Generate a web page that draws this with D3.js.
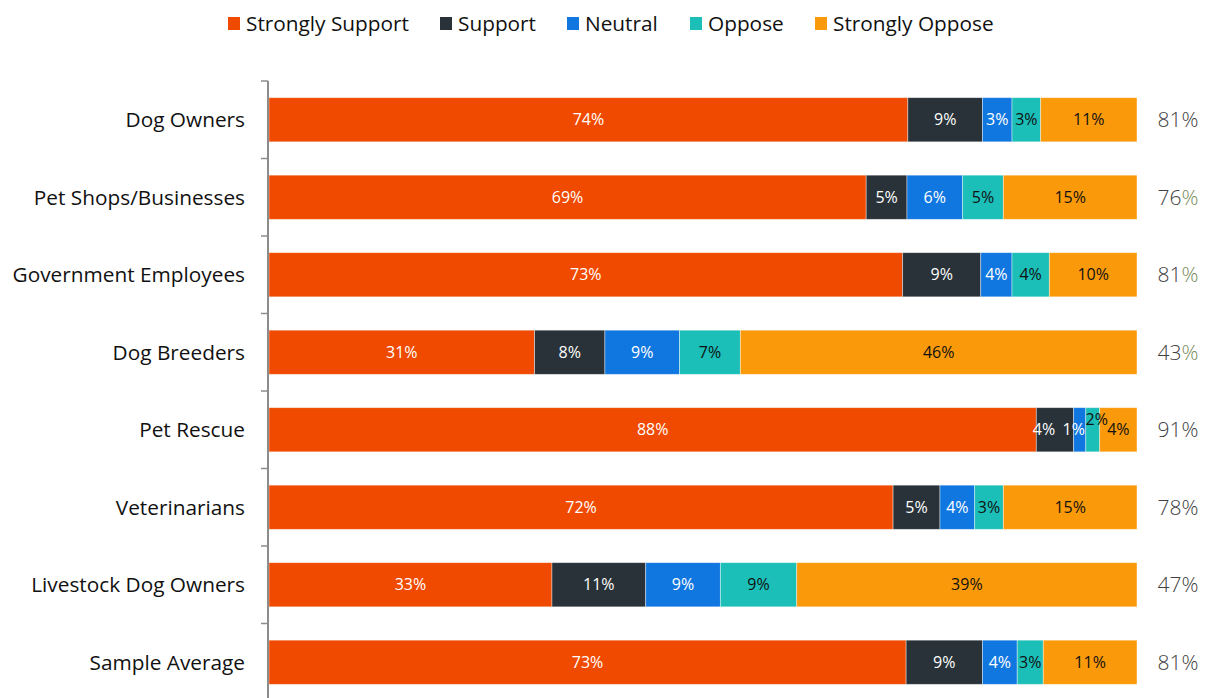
<!DOCTYPE html>
<html>
<head>
<meta charset="utf-8">
<script src="https://cdn.jsdelivr.net/npm/d3@7"></script>
<style>
  html, body { margin: 0; padding: 0; background: #fff; }
  svg { display: block; }
</style>
</head>
<body>
<svg id="chart" width="1208" height="698"></svg>
<script>
const categories = ["Dog Owners", "Pet Shops/Businesses", "Government Employees", "Dog Breeders", "Pet Rescue", "Veterinarians", "Livestock Dog Owners", "Sample Average"];
const seriesNames = ["Strongly Support", "Support", "Neutral", "Oppose", "Strongly Oppose"];
const stronglySupport = [73.6, 68.8, 73.0, 30.6, 88.4, 71.9, 32.6, 73.4];
const support         = [8.6, 4.7, 9.0, 8.1, 4.3, 5.4, 10.8, 8.8];
const neutral         = [3.4, 6.4, 3.6, 8.6, 1.4, 4.0, 8.6, 4.0];
const oppose          = [3.3, 4.7, 4.3, 7.0, 1.6, 3.3, 8.8, 3.0];
const stronglyOppose  = [11.1, 15.4, 10.1, 45.7, 4.3, 15.4, 39.2, 10.8];
const totals = [81, 76, 81, 43, 91, 78, 47, 81];
const totalPctGreen = [false, true, true, true, false, false, false, false];

const colors = ["#F04A00", "#283238", "#1177E0", "#1BBFB8", "#FA9A0A"];
const labelColors = ["#ffffff", "#ffffff", "#ffffff", "#111111", "#111111"];
const seriesValues = [stronglySupport, support, neutral, oppose, stronglyOppose];
// manual label nudges for crowded segments (style only)
const labelNudges = {
  "Pet Rescue|Support": [-11, 0],
  "Pet Rescue|Neutral": [-6, 0],
  "Pet Rescue|Oppose": [4, -10],
  "Pet Rescue|Strongly Oppose": [0, 0]
};

const rows = categories.map((c, i) => {
  const r = { category: c };
  seriesNames.forEach((s, k) => r[s] = seriesValues[k][i]);
  return r;
});

const svg = d3.select("#chart");
const font = "'Open Sans', 'Noto Sans', sans-serif";

const x = d3.scaleLinear().domain([0, 100]).range([269, 1137]);
const y = d3.scaleBand().domain(categories).range([81, 701]).paddingInner(0.43).paddingOuter(0.215);

const stacked = d3.stack().keys(seriesNames)(rows);

// bars
const layers = svg.append("g").selectAll("g").data(stacked).join("g")
  .attr("fill", (d, i) => colors[i]);
layers.selectAll("rect").data(d => d).join("rect")
  .attr("x", d => x(d[0]))
  .attr("y", d => y(d.data.category))
  .attr("width", d => x(d[1]) - x(d[0]))
  .attr("height", y.bandwidth())
  .attr("stroke", "#ffffff")
  .attr("stroke-opacity", 0.5)
  .attr("stroke-width", 0.8);

// labels in bars
const lab = svg.append("g").attr("font-family", font).attr("font-size", 16).attr("text-anchor", "middle");
stacked.forEach((layer, k) => {
  const key = layer.key;
  lab.selectAll(null).data(layer).join("text")
    .attr("x", d => (x(d[0]) + x(d[1])) / 2 + ((labelNudges[d.data.category + "|" + key] || [0, 0])[0]))
    .attr("y", d => y(d.data.category) + y.bandwidth() / 2 + ((labelNudges[d.data.category + "|" + key] || [0, 0])[1]))
    .attr("dy", "0.35em")
    .attr("fill", labelColors[k])
    .text(d => Math.round(d[1] - d[0]) + "%");
});

// axis
const axisG = svg.append("g").attr("stroke", "#8c8c8c");
axisG.append("line").attr("x1", 268).attr("x2", 268).attr("y1", 81).attr("y2", 698).attr("stroke-width", 2);
const tickPos = categories.map(c => y(c) - y.step() * y.paddingInner() / 2);
tickPos[0] = 81;
axisG.selectAll("line.tick").data(tickPos).join("line").attr("class", "tick")
  .attr("x1", 261).attr("x2", 268).attr("y1", d => d).attr("y2", d => d).attr("stroke-width", 1.5);

// category labels
svg.append("g").selectAll("text").data(categories).join("text")
  .attr("x", 245)
  .attr("y", d => y(d) + y.bandwidth() / 2)
  .attr("dy", "0.35em")
  .attr("text-anchor", "end")
  .attr("font-family", font)
  .attr("font-size", 20.8)
  .attr("fill", "#111111")
  .text(d => d);

// totals
const tot = svg.append("g").selectAll("text").data(categories).join("text")
  .attr("x", 1178)
  .attr("y", d => y(d) + y.bandwidth() / 2)
  .attr("dy", "0.35em")
  .attr("text-anchor", "middle")
  .attr("font-family", font)
  .attr("font-size", 21)
  .attr("font-weight", 300)
  .attr("fill", "#404040");
tot.append("tspan").text((d, i) => totals[i]);
tot.append("tspan").attr("fill", (d, i) => totalPctGreen[i] ? "#7a8a5a" : "#404040").text("%");

// legend
const legendX = [228, 440, 567, 690, 815];
const lg = svg.append("g").selectAll("g").data(seriesNames).join("g")
  .attr("transform", (d, i) => `translate(${legendX[i]},0)`);
lg.append("rect").attr("x", 0).attr("y", 17).attr("width", 12).attr("height", 13)
  .attr("fill", (d, i) => colors[i]);
lg.append("text").attr("x", 18).attr("y", 24).attr("dy", "0.35em")
  .attr("font-family", font).attr("font-size", 20.8).attr("fill", "#111111")
  .text(d => d);
</script>
</body>
</html>
